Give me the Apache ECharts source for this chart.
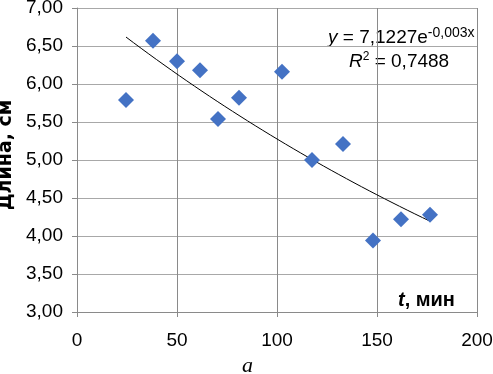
<!DOCTYPE html>
<html>
<head>
<meta charset="utf-8">
<script src="https://cdn.jsdelivr.net/npm/echarts@6/dist/echarts.min.js"></script>
<style>
  html, body { margin: 0; padding: 0; background: #fff; }
  #chart1 { width: 493px; height: 374px; }
</style>
</head>
<body>
<div id="chart1"></div>
<script>
// измерения: время (мин) и длина (см)
var times = [24.5, 38, 50, 61.5, 70.5, 81, 102.5, 117.5, 133, 148, 162, 176.5];
var lengths = [5.79, 6.57, 6.30, 6.18, 5.54, 5.82, 6.16, 5.00, 5.21, 3.94, 4.22, 4.28];
var xTicks = [0, 50, 100, 150, 200];
var yTicks = [3, 3.5, 4, 4.5, 5, 5.5, 6, 6.5, 7];

// экспоненциальный тренд (как в подписи)
var trendA = 7.1227, trendB = -0.003;

var points = times.map(function (t, i) { return [t, lengths[i]]; });
var trend = [];
var t0 = times[0], t1 = times[times.length - 1];
for (var k = 0; k <= 40; k++) {
    var t = t0 + (t1 - t0) * k / 40;
    trend.push([t, trendA * Math.exp(trendB * t)]);
}

var font = 'Liberation Sans';
var chart1 = echarts.init(document.getElementById('chart1'));
var option1 = {
    animation: false,
    grid: { left: 77, right: 16, top: 8, bottom: 62, outerBoundsMode: 'none' },
    xAxis: {
        type: 'value',
        min: xTicks[0], max: xTicks[xTicks.length - 1], interval: 50,
        axisLine: { show: true, lineStyle: { color: '#8a8a8a' } },
        axisTick: { show: true, length: 5, lineStyle: { color: '#8a8a8a' } },
        axisLabel: { color: '#000', fontFamily: font, fontSize: 19, margin: 19 },
        splitLine: { show: true, lineStyle: { color: '#8a8a8a' } }
    },
    yAxis: {
        type: 'value',
        min: yTicks[0], max: yTicks[yTicks.length - 1], interval: 0.5,
        name: 'Длина, см',
        nameLocation: 'middle',
        nameGap: 56,
        nameTextStyle: { color: '#000', fontFamily: 'DejaVu Sans', fontSize: 19, fontWeight: 'bold', padding: [0, 0, 0, 10] },
        axisLine: { show: true, lineStyle: { color: '#8a8a8a' } },
        axisTick: { show: true, length: 5, lineStyle: { color: '#8a8a8a' } },
        axisLabel: {
            color: '#000', fontFamily: font, fontSize: 19, margin: 14,
            formatter: function (v) { return v.toFixed(2).replace('.', ','); }
        },
        splitLine: { show: true, lineStyle: { color: '#a8a8a8' } }
    },
    graphic: [
        {
            type: 'text', left: 328, top: 26,
            style: {
                text: '{i|y} = 7,1227e{s|-0,003x}',
                rich: {
                    i: { fontStyle: 'italic', fontFamily: font, fontSize: 19, fill: '#000' },
                    s: { fontFamily: font, fontSize: 14, fill: '#000', padding: [0, 0, 9, 0] }
                },
                fontFamily: font, fontSize: 19, fill: '#000'
            }
        },
        {
            type: 'text', left: 349, top: 51,
            style: {
                text: '{i|R}{s|2} = 0,7488',
                rich: {
                    i: { fontStyle: 'italic', fontFamily: font, fontSize: 19, fill: '#000' },
                    s: { fontFamily: font, fontSize: 12, fill: '#000', padding: [0, 0, 9, 0] }
                },
                fontFamily: font, fontSize: 19, fill: '#000'
            }
        },
        {
            type: 'text', left: 398, top: 290,
            style: {
                text: '{i|t}, мин',
                rich: { i: { fontStyle: 'italic', fontWeight: 'bold', fontFamily: font, fontSize: 20, fill: '#000' } },
                fontFamily: font, fontSize: 20, fontWeight: 'bold', fill: '#000'
            }
        },
        {
            type: 'text', left: 242, top: 355,
            style: { text: 'a', fontFamily: 'Liberation Serif', fontStyle: 'italic', fontSize: 22, fill: '#000' }
        }
    ],
    series: [
        {
            name: 'Тренд',
            type: 'line',
            data: trend,
            showSymbol: false,
            lineStyle: { color: '#000', width: 1 },
            z: 2
        },
        {
            name: 'Длина',
            type: 'scatter',
            data: points,
            symbol: 'diamond',
            symbolSize: 16,
            itemStyle: { color: '#4472C4', opacity: 1 },
            z: 3
        }
    ]
};
chart1.setOption(option1);
</script>
</body>
</html>
